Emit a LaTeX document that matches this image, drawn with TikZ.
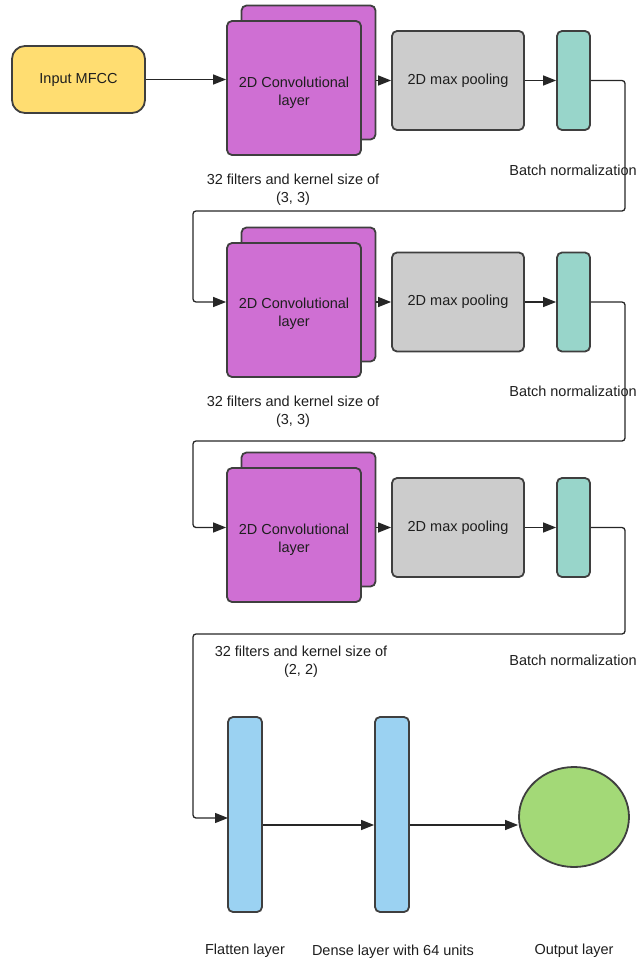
\documentclass[tikz,border=0pt]{standalone}
\usepackage{fontspec}
\setmainfont{Liberation Sans}
\usetikzlibrary{arrows.meta,calc,shapes.geometric}
\definecolor{inyel}{HTML}{FFDD71}
\definecolor{convpur}{HTML}{CF6FD3}
\definecolor{poolgray}{HTML}{CCCCCC}
\definecolor{bnteal}{HTML}{98D5CA}
\definecolor{densblue}{HTML}{9BD2F2}
\definecolor{outgreen}{HTML}{A3D977}
\definecolor{edgec}{HTML}{3F3F3F}
\definecolor{txtc}{HTML}{1E1E1E}
\begin{document}
\begin{tikzpicture}[x=1pt,y=-1pt,
  every node/.style={font=\fontsize{14.5}{18}\selectfont,text=txtc,align=center,inner sep=0pt},
  blk/.style={draw=edgec,line width=1.8pt,rounded corners=5pt},
  conv/.style={blk,fill=convpur,minimum width=134pt,minimum height=134pt},
  pool/.style={blk,fill=poolgray,minimum width=132pt,minimum height=99pt},
  bn/.style={blk,fill=bnteal,minimum width=33pt,minimum height=99pt},
  dense/.style={blk,fill=densblue,minimum width=34pt,minimum height=195pt},
  conn/.style={line width=1.3pt,draw=black!85,rounded corners=3pt,-{Triangle[length=13pt,width=10pt]}}]
\useasboundingbox (0,0) rectangle (639,961);

% input
\node[blk,rounded corners=13pt,fill=inyel,minimum width=133pt,minimum height=67pt] (in) at (78.5,79.5) {Input MFCC};

% row 1
\node[conv] (c1b) at (308.5,72.5) {};
\node[conv] (c1) at (294,88) {};
\node (c1t) at (294,93) {2D Convolutional\\layer};
\node[pool] (p1) at (458,80.5) {2D max pooling};
\node[bn] (b1) at (573.5,80.5) {};
\node (l1) at (293,190) {32 filters and kernel size of\\(3, 3)};
\node (n1) at (573,170) {Batch normalization};

% row 2
\node[conv] (c2b) at (308.5,294.5) {};
\node[conv] (c2) at (294,310) {};
\node (c2t) at (294,314) {2D Convolutional\\layer};
\node[pool] (p2) at (458,302) {2D max pooling};
\node[bn] (b2) at (573.5,302) {};
\node (l2) at (293,412) {32 filters and kernel size of\\(3, 3)};
\node (n2) at (573,391) {Batch normalization};

% row 3
\node[conv] (c3b) at (308.5,519.5) {};
\node[conv] (c3) at (294,535) {};
\node (c3t) at (294,540) {2D Convolutional\\layer};
\node[pool] (p3) at (458,527.5) {2D max pooling};
\node[bn] (b3) at (573.5,527.5) {};
\node (l3) at (301,662) {32 filters and kernel size of\\(2, 2)};
\node (n3) at (573,660) {Batch normalization};

% row 4
\node[dense] (f) at (245,814.5) {};
\node[dense] (d) at (392,814.5) {};
\node[draw=edgec,line width=1.8pt,fill=outgreen,ellipse,minimum width=110pt,minimum height=100pt] (o) at (574,817) {};
\node (lf) at (245,951) {Flatten layer};
\node (ld) at (393,952) {Dense layer with 64 units};
\node (lo) at (574,951) {Output layer};

% routing coordinates
\coordinate (k1r) at (625,211);
\coordinate (k1l) at (193,211);
\coordinate (k2r) at (625,441);
\coordinate (k2l) at (193,441);
\coordinate (k3r) at (625,634);
\coordinate (k3l) at (193,634);
\coordinate (fin) at (228,818);
\coordinate (h4) at (0,825);

% connectors
\draw[conn] (in.east) -- (c1.west |- in.east);
\draw[conn] (c1b.east |- p1.west) -- (p1.west);
\draw[conn] (p1.east) -- (b1.west);
\draw[conn] (b1.east) -| (k1r) -- (k1l) |- (c2.west |- p2.west);
\draw[conn] (c2b.east |- p2.west) -- (p2.west);
\draw[conn] (p2.east) -- (b2.west);
\draw[conn] (b2.east) -| (k2r) -- (k2l) |- (c3.west |- p3.west);
\draw[conn] (c3b.east |- p3.west) -- (p3.west);
\draw[conn] (p3.east) -- (b3.west);
\draw[conn] (b3.east) -| (k3r) -- (k3l) |- (fin);
\draw[conn] (f.east |- h4) -- (d.west |- h4);
\draw[conn] (d.east |- h4) -- (o.west |- h4);
\end{tikzpicture}
\end{document}
